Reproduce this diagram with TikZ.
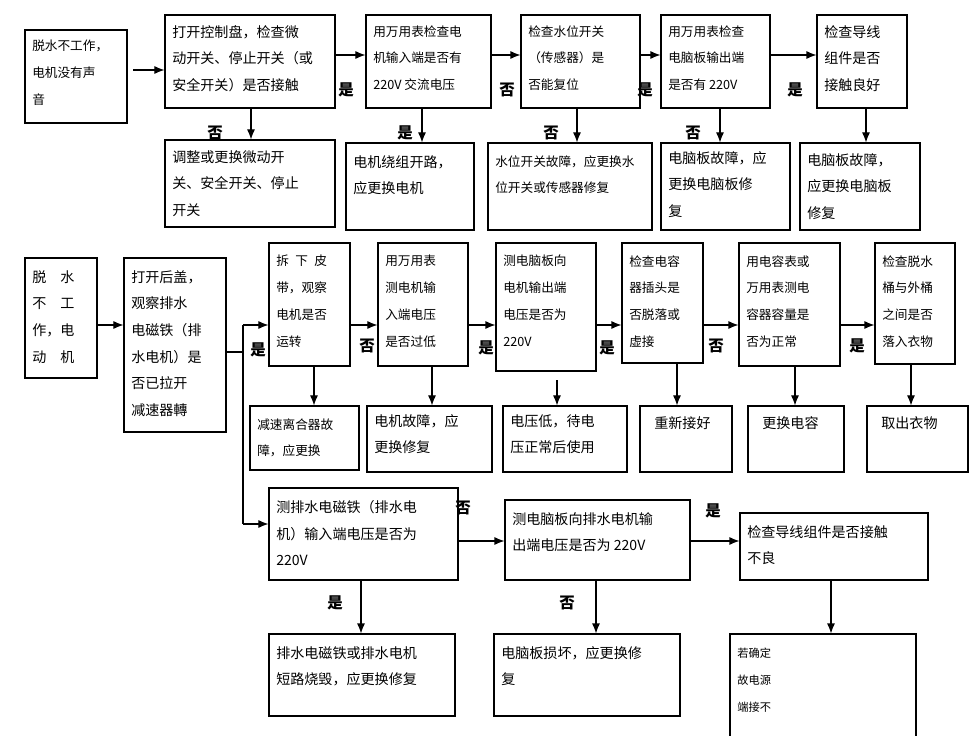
\documentclass[tikz,border=0pt]{standalone}
\usepackage{fontspec}
\newfontfamily\cjk{Noto Sans CJK SC}
\usetikzlibrary{arrows.meta}
\tikzset{
  box/.style={draw,thick,inner sep=0pt},
  txt/.style={font=\cjk\fontsize{10}{19}\selectfont,align=left,inner sep=0pt,anchor=north west},
  yn/.style={font=\cjk\bfseries\fontsize{11}{12}\selectfont,inner sep=1pt},
  arr/.style={thick,-{Latex[length=2.5mm,width=2mm]}}
}
% box: name, x1, y1, x2, y2, top offset, text
\newcommand\bx[7]{%
  \pgfmathsetlengthmacro\bw{(#4-#2)*0.025cm}%
  \pgfmathsetlengthmacro\bh{(#5-#3)*0.025cm}%
  \node[box,minimum width=\bw,minimum height=\bh] (#1) at ({(#2+#4)/2},{(#3+#5)/2}) {};
  \node[txt] (#1t) at ({#2+7},{#3+#6}) {#7};}
\begin{document}
\begin{tikzpicture}[x=0.025cm,y=-0.025cm]
\useasboundingbox (0,0) rectangle (976,736);
% first row
\bx{a1}{25}{30}{127}{123}{10}{\small 脱水不工作，\\ \small 电机没有声\\ \small 音}
\bx{a2}{165}{15}{335}{108}{10}{打开控制盘，检查微\\动开关、停止开关（或\\安全开关）是否接触}
\bx{a3}{366}{15}{491}{108}{10}{\small 用万用表检查电\\ \small 机输入端是否有\\ \small 220V 交流电压}
\bx{a4}{521}{15}{640}{108}{10}{\small 检查水位开关\\ \small （传感器）是\\ \small 否能复位}
\bx{a5}{661}{15}{770}{108}{10}{\small 用万用表检查\\ \small 电脑板输出端\\ \small 是否有 220V}
\bx{a6}{817}{15}{907}{108}{10}{检查导线\\组件是否\\接触良好}
\bx{b2}{165}{140}{335}{227}{10}{调整或更换微动开\\关、安全开关、停止\\开关}
\bx{b3}{346}{143}{474}{230}{12}{电机绕组开路，\\应更换电机}
\bx{b4}{488}{143}{652}{230}{12}{\small 水位开关故障，应更换水\\ \small 位开关或传感器修复}
\bx{b5}{661}{143}{790}{230}{8}{电脑板故障，应\\更换电脑板修\\复}
\bx{b6}{800}{143}{920}{230}{10}{电脑板故障，\\应更换电脑板\\修复}
\draw[arr] (133,70) -- (a2.west |- 0,70);
\draw[arr] (a2.east |- 0,55) -- (a3.west |- 0,55);
\draw[arr] (a3.east |- 0,55) -- (a4.west |- 0,55);
\draw[arr] (a4.east |- 0,55) -- (a5.west |- 0,55);
\draw[arr] (a5.east |- 0,55) -- (a6.west |- 0,55);
\draw[arr] (a2.south -| 251,0) -- (b2.north -| 251,0);
\draw[arr] (a3.south -| 422,0) -- (b3.north -| 422,0);
\draw[arr] (a4.south -| 577,0) -- (b4.north -| 577,0);
\draw[arr] (a5.south -| 720,0) -- (b5.north -| 720,0);
\draw[arr] (a6.south -| 866,0) -- (b6.north -| 866,0);
\node[yn] (y1) at (346,90) {是};
\node[yn] (y2) at (507,90) {否};
\node[yn] (y3) at (645,90) {是};
\node[yn] (y4) at (795,90) {是};
\node[yn] (y5) at (215,133) {否};
\node[yn] (y6) at (405,133) {是};
\node[yn] (y7) at (551,133) {否};
\node[yn] (y8) at (693,133) {否};
% second row
\bx{c1}{25}{258}{97}{378}{12}{脱\quad 水\\不\quad 工\\作，电\\动\quad 机}
\bx{c2}{124}{258}{226}{432}{12}{打开后盖，\\观察排水\\电磁铁（排\\水电机）是\\否已拉开\\减速器轉}
\bx{c3}{269}{243}{350}{366}{12}{\small 拆\enspace 下\enspace 皮\\ \small 带，观察\\ \small 电机是否\\ \small 运转}
\bx{c4}{378}{243}{468}{366}{12}{\small 用万用表\\ \small 测电机输\\ \small 入端电压\\ \small 是否过低}
\bx{c5}{496}{243}{596}{371}{12}{\small 测电脑板向\\ \small 电机输出端\\ \small 电压是否为\\ \small 220V}
\bx{c6}{622}{243}{703}{363}{12}{\small 检查电容\\ \small 器插头是\\ \small 否脱落或\\ \small 虚接}
\bx{c7}{739}{243}{840}{366}{12}{\small 用电容表或\\ \small 万用表测电\\ \small 容器容量是\\ \small 否为正常}
\bx{c8}{875}{243}{955}{364}{12}{\small 检查脱水\\ \small 桶与外桶\\ \small 之间是否\\ \small 落入衣物}
\bx{e3}{250}{406}{359}{470}{12}{\small 减速离合器故\\ \small 障，应更换}
\bx{e4}{367}{406}{492}{472}{8}{电机故障，应\\更换修复}
\bx{e5}{503}{406}{627}{472}{8}{电压低，待电\\压正常后使用}
\bx{e6}{640}{406}{732}{472}{10}{\enspace 重新接好}
\bx{e7}{748}{406}{844}{472}{10}{\enspace 更换电容}
\bx{e8}{867}{406}{968}{472}{10}{\enspace 取出衣物}
\draw[arr] (c1.east |- 0,325) -- (c2.west |- 0,325);
\draw[thick] (c2.east |- 0,352) -- (243,352);
\coordinate (br) at (243,524);
\draw[arr] (243,325) -- (c3.west |- 0,325);
\draw[thick] (243,325) -- (br);
\draw[arr] (c3.east |- 0,325) -- (c4.west |- 0,325);
\draw[arr] (c4.east |- 0,325) -- (c5.west |- 0,325);
\draw[arr] (c5.east |- 0,325) -- (c6.west |- 0,325);
\draw[arr] (c6.east |- 0,325) -- (c7.west |- 0,325);
\draw[arr] (c7.east |- 0,325) -- (c8.west |- 0,325);
\draw[arr] (c3.south -| 314,0) -- (e3.north -| 314,0);
\draw[arr] (c4.south -| 432,0) -- (e4.north -| 432,0);
\draw[arr] (557,380) -- (e5.north -| 557,0);
\draw[arr] (c6.south -| 677,0) -- (e6.north -| 677,0);
\draw[arr] (c7.south -| 795,0) -- (e7.north -| 795,0);
\draw[arr] (c8.south -| 911,0) -- (e8.north -| 911,0);
\node[yn] (y9) at (258,350) {是};
\node[yn] (y10) at (367,346) {否};
\node[yn] (y11) at (486,348) {是};
\node[yn] (y12) at (607,348) {是};
\node[yn] (y13) at (716,346) {否};
\node[yn] (y14) at (857,346) {是};
% third row
\bx{d1}{269}{488}{458}{580}{12}{测排水电磁铁（排水电\\机）输入端电压是否为\\220V}
\bx{d2}{505}{500}{690}{580}{12}{测电脑板向排水电机输\\出端电压是否为 220V}
\bx{d3}{740}{513}{928}{580}{12}{检查导线组件是否接触\\不良}
\bx{f1}{269}{634}{455}{716}{12}{排水电磁铁或排水电机\\短路烧毁，应更换修复}
\bx{f2}{494}{634}{680}{716}{12}{电脑板损坏，应更换修\\复}
\bx{f3}{730}{634}{916}{740}{14}{\footnotesize 若确定\\ \footnotesize 故电源\\ \footnotesize 端接不}
\draw[arr] (br) -- (d1.west |- br);
\draw[arr] (d1.east |- 0,541) -- (d2.west |- 0,541);
\draw[arr] (d2.east |- 0,541) -- (d3.west |- 0,541);
\draw[arr] (d1.south -| 361,0) -- (f1.north -| 361,0);
\draw[arr] (d2.south -| 596,0) -- (f2.north -| 596,0);
\draw[arr] (d3.south -| 831,0) -- (f3.north -| 831,0);
\node[yn] (y15) at (463,508) {否};
\node[yn] (y16) at (713,511) {是};
\node[yn] (y17) at (335,603) {是};
\node[yn] (y18) at (567,603) {否};
\end{tikzpicture}
\end{document}
